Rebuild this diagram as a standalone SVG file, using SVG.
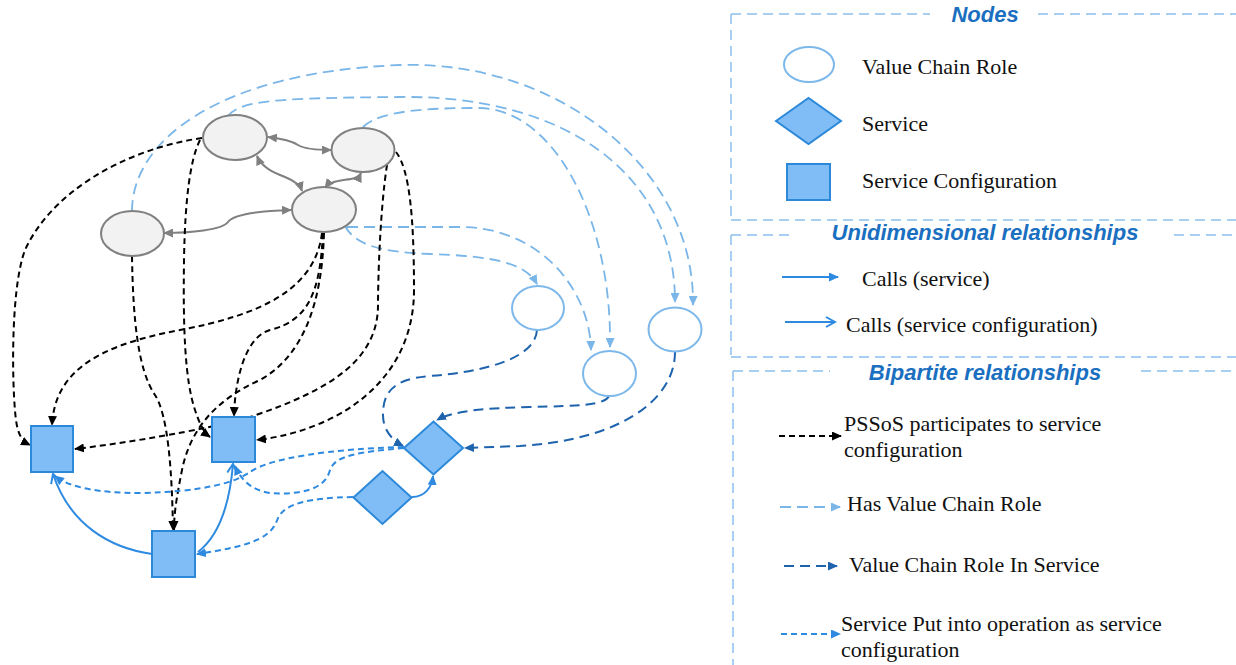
<svg xmlns="http://www.w3.org/2000/svg" width="1236" height="665" viewBox="0 0 1236 665">
<style>
.gn{fill:#f2f2f2;stroke:#808080;stroke-width:2}
.role{fill:#fff;stroke:#7db8ea;stroke-width:2}
.bl{fill:#80bdf7;stroke:#2c88d9;stroke-width:2}
.cg{fill:none;stroke:#808080;stroke-width:2}
.ck{fill:none;stroke:#000;stroke-width:2;stroke-dasharray:6 4}
.cl{fill:none;stroke:#7ab6e8;stroke-width:1.8;stroke-dasharray:11 6}
.cd{fill:none;stroke:#1e63ad;stroke-width:2;stroke-dasharray:10 6}
.co{fill:none;stroke:#2e8ae0;stroke-width:2;stroke-dasharray:6 4}
.cc{fill:none;stroke:#2e8ae0;stroke-width:2}
.fr{stroke:#8cc0ea;stroke-width:1.5;stroke-dasharray:10 6;fill:none}
.tt{font-family:"Liberation Sans",Arial,sans-serif;font-style:italic;font-weight:bold;font-size:22px;fill:#1a6fc0;text-anchor:middle}
.lb{font-family:"Liberation Serif","Times New Roman",serif;font-size:22px;fill:#111}
</style>
<defs>
<marker id="aK" markerUnits="userSpaceOnUse" markerWidth="10" markerHeight="9" refX="9" refY="4.5" orient="auto"><path d="M0,0 L10,4.5 L0,9 z" fill="#000"/></marker>
<marker id="aL" markerUnits="userSpaceOnUse" markerWidth="10" markerHeight="9" refX="9" refY="4.5" orient="auto"><path d="M0,0 L10,4.5 L0,9 z" fill="#7ab6e8"/></marker>
<marker id="aD" markerUnits="userSpaceOnUse" markerWidth="10" markerHeight="9" refX="9" refY="4.5" orient="auto"><path d="M0,0 L10,4.5 L0,9 z" fill="#1e63ad"/></marker>
<marker id="aB" markerUnits="userSpaceOnUse" markerWidth="10" markerHeight="9" refX="9" refY="4.5" orient="auto"><path d="M0,0 L10,4.5 L0,9 z" fill="#2e8ae0"/></marker>
<marker id="aG" markerUnits="userSpaceOnUse" markerWidth="10" markerHeight="9" refX="9" refY="4.5" orient="auto-start-reverse"><path d="M0,0 L10,4.5 L0,9 z" fill="#808080"/></marker>
<marker id="cB" markerUnits="userSpaceOnUse" markerWidth="12" markerHeight="12" refX="10" refY="6" orient="auto"><path d="M1,1 L10,6 L1,11" fill="none" stroke="#2e8ae0" stroke-width="2"/></marker>
</defs>
<rect width="1236" height="665" fill="#fff"/>

<g id="connectors">
<path class="cg" d="M268,137 C285,139 292,141 298,145 C305,149 315,150 331,150" marker-start="url(#aG)" marker-end="url(#aG)"/>
<path class="cg" d="M257,156 C262,168 275,173 285,177 C295,181 300,185 302,191" marker-start="url(#aG)" marker-end="url(#aG)"/>
<path class="cg" d="M361,173 C358,180 345,179 338,181 C332,182 328,184 325,188" marker-start="url(#aG)" marker-end="url(#aG)"/>
<path class="cg" d="M164,233 C190,233 222,230 228,222 C234,214 260,211 291,210" marker-start="url(#aG)" marker-end="url(#aG)"/>
<path class="cl" d="M132,211 C132,140 220,72 400,65 C560,60 695,170 693,305" marker-end="url(#aL)"/>
<path class="cl" d="M228,116 C240,100 280,98 400,97 C560,95 675,170 675,302" marker-end="url(#aL)"/>
<path class="cl" d="M363,127 C380,110 430,108 480,108 C555,110 612,220 610,347" marker-end="url(#aL)"/>
<path class="cl" d="M347,227 L460,227 C540,227 590,290 591,350" marker-end="url(#aL)"/>
<path class="cl" d="M345,226 C355,245 380,252 430,254 C490,256 525,262 537,284" marker-end="url(#aL)"/>
<path class="cd" d="M537,330 C535,360 480,372 430,376 C390,379 383,395 383,415 C383,430 392,440 403,446" marker-end="url(#aD)"/>
<path class="cd" d="M609,396 C605,405 580,406 530,407 C490,408 455,410 437,420" marker-end="url(#aD)"/>
<path class="cd" d="M675,352 C675,400 620,440 520,446 L465,448" marker-end="url(#aD)"/>
<path class="ck" d="M202,138 C120,150 50,195 25,250 C10,290 12,390 16,420 C18,435 22,441 30,445" marker-end="url(#aK)"/>
<path class="ck" d="M200,140 C190,160 185,200 184,260 C183,330 185,380 195,410 C199,422 203,432 210,437" marker-end="url(#aK)"/>
<path class="ck" d="M132,256 C133,320 138,370 155,395 C168,415 172,470 173,530" marker-end="url(#aK)"/>
<path class="ck" d="M322,233 C315,290 260,315 180,330 C100,345 55,370 52,425" marker-end="url(#aK)"/>
<path class="ck" d="M323,233 C320,290 310,320 270,330 C245,337 235,380 234,416" marker-end="url(#aK)"/>
<path class="ck" d="M324,233 C322,300 305,355 260,380 C215,400 190,430 182,470 C176,500 174,515 174,530" marker-end="url(#aK)"/>
<path class="ck" d="M387,165 C380,210 378,280 378,305 C378,360 330,390 253,416 C230,424 150,440 75,449" marker-end="url(#aK)"/>
<path class="ck" d="M396,152 C410,170 414,220 414,290 C414,380 340,430 257,440" marker-end="url(#aK)"/>
<path class="cc" d="M152,554 C110,548 70,525 53,474" marker-end="url(#cB)"/>
<path class="cc" d="M198,552 C220,535 230,500 233,464" marker-end="url(#cB)"/>
<path class="cc" d="M412,497 C425,497 432,487 433,476" marker-end="url(#aB)"/>
<path class="co" d="M404,447 C330,449 270,458 250,472 C235,483 200,492 140,493 C100,493 70,488 55,476" marker-end="url(#aB)"/>
<path class="co" d="M404,448 C360,452 335,455 330,470 C325,490 300,495 270,493 C250,490 240,478 235,466" marker-end="url(#aB)"/>
<path class="co" d="M353,497 C310,498 285,503 278,518 C272,535 260,545 197,554" marker-end="url(#aB)"/>
</g>

<g id="role-pssos-1"><ellipse class="gn" cx="235" cy="137.5" rx="32" ry="22.5"/></g>
<g id="role-pssos-2"><ellipse class="gn" cx="363" cy="150" rx="31.5" ry="22"/></g>
<g id="role-pssos-3"><ellipse class="gn" cx="324" cy="209.5" rx="32" ry="22.5"/></g>
<g id="role-pssos-4"><ellipse class="gn" cx="132.5" cy="233.5" rx="31.5" ry="22.5"/></g>
<g id="role-1"><ellipse class="role" cx="538" cy="308" rx="26" ry="22"/></g>
<g id="role-2"><ellipse class="role" cx="609.5" cy="373.5" rx="26.5" ry="22.5"/></g>
<g id="role-3"><ellipse class="role" cx="675" cy="329.5" rx="26.5" ry="22"/></g>
<g id="service-1"><polygon class="bl" points="404,448 433.5,421.5 463,448 433.5,474.5"/></g>
<g id="service-2"><polygon class="bl" points="353.5,497.5 382.5,471 411.5,497.5 382.5,524"/></g>
<g id="config-1"><rect class="bl" x="31" y="426" width="42" height="46"/></g>
<g id="config-2"><rect class="bl" x="212" y="417" width="43" height="45"/></g>
<g id="config-3"><rect class="bl" x="152" y="531" width="43" height="46"/></g>

<g id="legend">
<path class="fr" d="M731,14 H930 M1038,14 H1236 M731,14 V220 M731,220 H1236"/>
<path class="fr" d="M731,235 H795 M1174,235 H1236 M731,235 V355 M731,357 H1236"/>
<path class="fr" d="M733,371 H830 M1141,371 H1236 M733,371 V665"/>
<text class="tt" x="985" y="22">Nodes</text>
<text class="tt" x="985" y="240">Unidimensional relationships</text>
<text class="tt" x="985" y="380">Bipartite relationships</text>
<g id="legend-role"><ellipse class="role" cx="809" cy="64.5" rx="25" ry="17.5"/><text class="lb" x="862" y="74">Value Chain Role</text></g>
<g id="legend-service"><polygon class="bl" points="776,121 808.5,98 841,121 808.5,144"/><text class="lb" x="862" y="131">Service</text></g>
<g id="legend-config"><rect class="bl" x="787" y="164" width="43" height="36"/><text class="lb" x="862" y="188">Service Configuration</text></g>
<g id="legend-calls-s"><path class="cc" d="M782,277 H838" marker-end="url(#aB)"/><text class="lb" x="862" y="286">Calls (service)</text></g>
<g id="legend-calls-c"><path class="cc" d="M785,322 H835" marker-end="url(#cB)"/><text class="lb" x="846" y="332">Calls (service configuration)</text></g>
<g id="legend-pssos"><path class="ck" d="M779,436 H841" marker-end="url(#aK)"/><text class="lb" x="844" y="431">PSSoS participates to service</text><text class="lb" x="844" y="457">configuration</text></g>
<g id="legend-hvcr"><path class="cl" d="M780,507 H840" marker-end="url(#aL)"/><text class="lb" x="847" y="511">Has Value Chain Role</text></g>
<g id="legend-vcris"><path class="cd" d="M784,566 H837" marker-end="url(#aD)"/><text class="lb" x="849" y="572">Value Chain Role In Service</text></g>
<g id="legend-op"><path class="co" d="M781,634 H840" marker-end="url(#aB)"/><text class="lb" x="841" y="631">Service Put into operation as service</text><text class="lb" x="841" y="657">configuration</text></g>
</g>
</svg>
